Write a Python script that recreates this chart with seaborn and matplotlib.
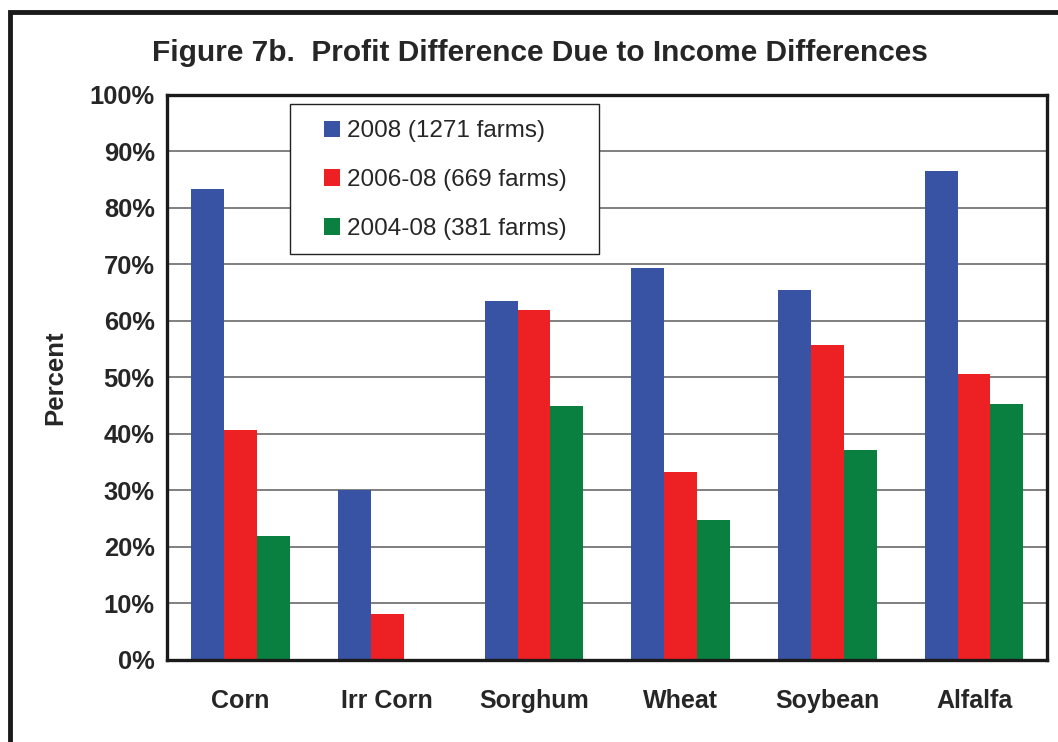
import matplotlib
matplotlib.use("Agg")
import matplotlib.pyplot as plt
from matplotlib.patches import Rectangle
from matplotlib.ticker import FuncFormatter, FixedLocator
import pandas as pd
import seaborn as sns

# data (percent)
crops = ["Corn", "Irr Corn", "Sorghum", "Wheat", "Soybean", "Alfalfa"]
series = ["2008 (1271 farms)", "2006-08 (669 farms)", "2004-08 (381 farms)"]
pct_2008 = [83.4, 30.1, 63.6, 69.3, 65.4, 86.6]
pct_2006_08 = [40.6, 8.1, 61.9, 33.3, 55.8, 50.6]
pct_2004_08 = [21.9, 0.0, 44.9, 24.7, 37.1, 45.2]
colors = ["#3953A4", "#ED2024", "#0A8040"]

sns.set_style("white")
plt.rcParams["font.family"] = ["Liberation Sans", "DejaVu Sans"]

df = pd.DataFrame({
    "crop": crops * 3,
    "series": [series[0]] * 6 + [series[1]] * 6 + [series[2]] * 6,
    "value": pct_2008 + pct_2006_08 + pct_2004_08,
})

fig = plt.figure(figsize=(10.58, 7.42), dpi=100)
ax = fig.add_axes([0.158, 0.111, 0.832, 0.761])

sns.barplot(data=df, x="crop", y="value", hue="series", order=crops,
            hue_order=series, palette=colors, saturation=1, width=0.67,
            linewidth=0, ax=ax)

ax.set_ylim(0, 100)
ax.set_xlim(-0.5, 5.5)
ax.set_yticks(range(0, 101, 10))
ax.yaxis.set_major_formatter(FuncFormatter(lambda v, p: f"{v:.0f}%"))
ax.set_axisbelow(True)
ax.yaxis.grid(True, color="#7f7f7f", lw=1.4)

# Excel-style ticks between categories
ax.xaxis.set_minor_locator(FixedLocator([i - 0.5 for i in range(7)]))
ax.tick_params(axis="x", which="major", length=0, pad=21, labelsize=18)
ax.tick_params(axis="x", which="minor", length=7, width=1.3, direction="out", color="black")
ax.tick_params(axis="y", length=6, width=1.3, direction="out", color="black", pad=3, labelsize=18.4)
for lab in ax.get_xticklabels() + ax.get_yticklabels():
    lab.set_fontweight("bold")

for sp in ax.spines.values():
    sp.set_visible(True)
    sp.set_color("#1a1a1a")
    sp.set_linewidth(2.4)

ax.set_xlabel("")
ax.set_ylabel("Percent", fontsize=18.5, fontweight="bold", labelpad=16)

# legend box drawn separately so its padding matches the reference
ax.add_patch(Rectangle((0.139, 0.719), 0.352, 0.265, transform=ax.transAxes,
                       facecolor="white", edgecolor="#222222", linewidth=1.0,
                       zorder=4))
leg = ax.legend(loc="upper left", bbox_to_anchor=(0.178, 0.955), fontsize=17.5,
                frameon=False, handlelength=0.66, handleheight=0.66,
                handletextpad=0.3, labelspacing=1.1, borderpad=0,
                borderaxespad=0, title=None)
leg.set_zorder(5)

fig.text(0.51, 0.929, "Figure 7b.  Profit Difference Due to Income Differences",
         ha="center", va="center", fontsize=21.5, fontweight="bold")

# outer border of the figure
fig.patches.append(Rectangle((0.009, -0.05), 1.1, 1.034, transform=fig.transFigure,
                             fill=False, edgecolor="#1a1a1a", linewidth=3.5))

fig.savefig("out.png", dpi=100)
